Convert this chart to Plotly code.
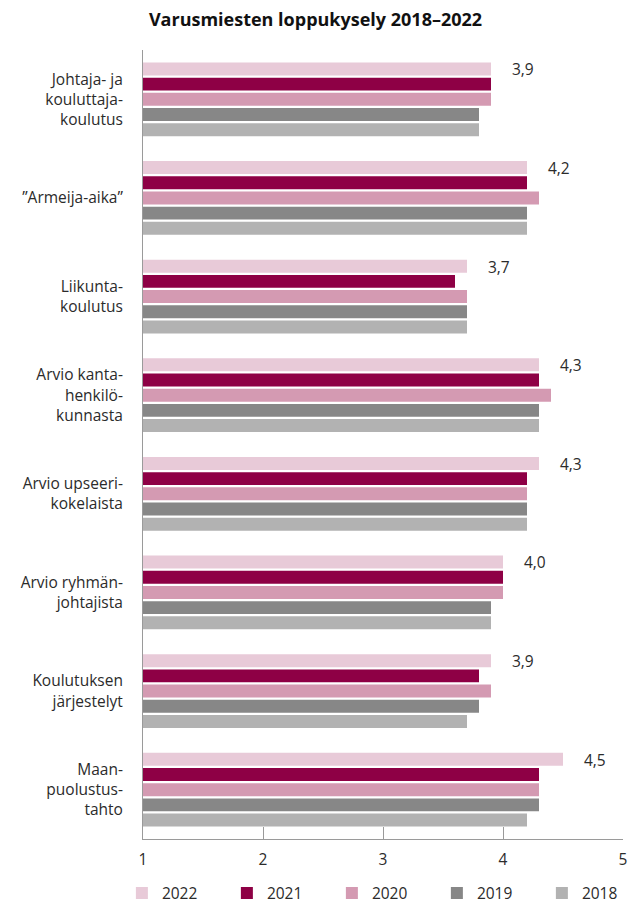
import plotly.graph_objects as go

categories = [
    "Johtaja- ja<br>kouluttaja-<br>koulutus",
    "”Armeija-aika”",
    "Liikunta-<br>koulutus",
    "Arvio kanta-<br>henkilö-<br>kunnasta",
    "Arvio upseeri-<br>kokelaista",
    "Arvio ryhmän-<br>johtajista",
    "Koulutuksen<br>järjestelyt",
    "Maan-<br>puolustus-<br>tahto",
]
years = ["2022", "2021", "2020", "2019", "2018"]
v2022 = [3.9, 4.2, 3.7, 4.3, 4.3, 4.0, 3.9, 4.5]
v2021 = [3.9, 4.2, 3.6, 4.3, 4.2, 4.0, 3.8, 4.3]
v2020 = [3.9, 4.3, 3.7, 4.4, 4.2, 4.0, 3.9, 4.3]
v2019 = [3.8, 4.2, 3.7, 4.3, 4.2, 3.9, 3.8, 4.3]
v2018 = [3.8, 4.2, 3.7, 4.3, 4.2, 3.9, 3.7, 4.2]
series = [v2022, v2021, v2020, v2019, v2018]
colors = ["#E8CAD8", "#8E0045", "#D49AB2", "#878787", "#B2B2B2"]
x_ticks = [1, 2, 3, 4, 5]

FONT = "Open Sans, Noto Sans, sans-serif"
TXT = "#2b2b2b"
FS = 15.5

fig = go.Figure()
for name, vals, col in zip(years, series, colors):
    fig.add_trace(go.Bar(
        y=categories, x=vals, name=name, orientation="h",
        marker=dict(color=col, line=dict(width=0)),
        hoverinfo="x+name",
    ))

for cat, v in zip(categories, v2022):
    fig.add_annotation(
        x=v, y=cat, xref="x", yref="y",
        text=f"{v:.1f}".replace(".", ","),
        showarrow=False, xanchor="left", yanchor="middle",
        xshift=19, yshift=30,
        font=dict(family=FONT, size=FS, color=TXT),
    )

fig.update_layout(
    width=631, height=907,
    margin=dict(l=143, r=8, t=50, b=68, autoexpand=False),
    paper_bgcolor="white", plot_bgcolor="white",
    barmode="group", bargap=0.23, bargroupgap=0.15,
    font=dict(family=FONT, size=FS, color=TXT),
    title=dict(
        text="<b>Varusmiesten loppukysely 2018–2022</b>",
        x=0.5, xref="container", xanchor="center",
        y=1 - 20 / 907, yref="container", yanchor="middle",
        font=dict(family=FONT, size=18, color="#111"),
    ),
    showlegend=True,
    legend=dict(
        orientation="h", traceorder="normal",
        x=-0.044, xref="paper", xanchor="left",
        y=-0.069, yref="paper", yanchor="middle",
        entrywidth=60, entrywidthmode="pixels",
        font=dict(family=FONT, size=FS, color=TXT),
        itemclick=False, itemdoubleclick=False,
    ),
    xaxis=dict(
        range=[1, 5], tickvals=x_ticks, ticktext=[str(t) for t in x_ticks],
        showgrid=False, zeroline=False,
        showline=True, linecolor="#9a9a9a", linewidth=1,
        ticks="inside", ticklen=12, tickcolor="#9a9a9a", tickwidth=1,
        ticklabelstandoff=6,
        tickfont=dict(family=FONT, size=FS, color=TXT),
    ),
    yaxis=dict(
        autorange="reversed",
        showgrid=False, zeroline=False,
        showline=True, linecolor="#9a9a9a", linewidth=1,
        ticks="", ticklabelstandoff=16,
        tickfont=dict(family=FONT, size=FS, color=TXT),
    ),
)

fig.write_html("out.html")
